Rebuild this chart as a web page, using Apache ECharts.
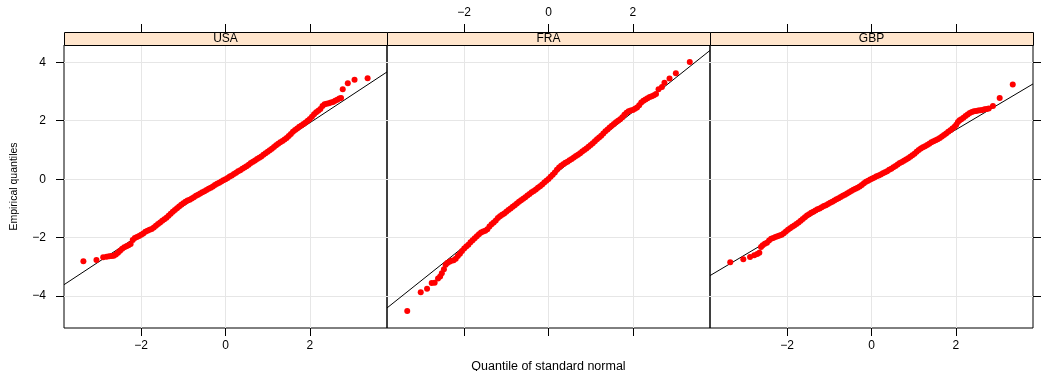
<!DOCTYPE html>
<html><head><meta charset="utf-8">
<script src="https://cdn.jsdelivr.net/npm/echarts@6/dist/echarts.min.js"></script>
<style>html,body{margin:0;padding:0;background:#fff}#c{width:1046px;height:371px}</style>
</head><body><div id="c"></div>
<script>
const panels = ['USA', 'FRA', 'GBP'];
const xTicks = [-2, 0, 2];
const yTicks = [-4, -2, 0, 2, 4];
const xRange = [-3.83, 3.83];
const yRange = [-5.09, 4.59];
const lineIntercept = [0.03, 0.00, -0.02];
const lineSlope = [0.95, 1.15, 0.856];

const usaPts = [[-3.37,-2.81],[-3.06,-2.76],[-2.90,-2.67],[-2.82,-2.65],[-2.76,-2.64],[-2.70,-2.63],[-2.65,-2.62],[-2.60,-2.58],[-2.55,-2.52],[-2.50,-2.45],[-2.45,-2.38],[-2.40,-2.33],[-2.35,-2.29],[-2.30,-2.26],[-2.25,-2.22],[-2.20,-2.08],[-2.15,-2.01],[-2.10,-1.98],[-2.05,-1.94],[-2.00,-1.90],[-1.95,-1.86],[-1.90,-1.80],[-1.85,-1.76],[-1.80,-1.73],[-1.75,-1.70],[-1.70,-1.65],[-1.65,-1.59],[-1.60,-1.53],[-1.55,-1.48],[-1.50,-1.42],[-1.45,-1.37],[-1.40,-1.32],[-1.35,-1.25],[-1.30,-1.18],[-1.25,-1.11],[-1.20,-1.05],[-1.15,-0.99],[-1.10,-0.93],[-1.05,-0.87],[-1.00,-0.82],[-0.95,-0.77],[-0.90,-0.73],[-0.85,-0.70],[-0.80,-0.66],[-0.75,-0.62],[-0.70,-0.57],[-0.65,-0.53],[-0.60,-0.49],[-0.55,-0.45],[-0.50,-0.41],[-0.45,-0.37],[-0.40,-0.33],[-0.35,-0.29],[-0.30,-0.25],[-0.25,-0.20],[-0.20,-0.16],[-0.15,-0.12],[-0.10,-0.08],[-0.05,-0.04],[0.00,0.00],[0.05,0.04],[0.10,0.09],[0.15,0.13],[0.20,0.18],[0.25,0.22],[0.30,0.27],[0.35,0.31],[0.40,0.36],[0.45,0.40],[0.50,0.44],[0.55,0.49],[0.60,0.55],[0.65,0.60],[0.70,0.64],[0.75,0.69],[0.80,0.73],[0.85,0.78],[0.90,0.84],[0.95,0.89],[1.00,0.94],[1.05,0.99],[1.10,1.04],[1.15,1.10],[1.20,1.16],[1.25,1.21],[1.30,1.26],[1.35,1.31],[1.40,1.36],[1.45,1.41],[1.50,1.48],[1.55,1.55],[1.60,1.62],[1.65,1.68],[1.70,1.73],[1.75,1.79],[1.80,1.84],[1.85,1.89],[1.90,1.94],[1.95,2.00],[2.00,2.06],[2.05,2.14],[2.10,2.22],[2.15,2.29],[2.20,2.34],[2.25,2.40],[2.30,2.50],[2.35,2.56],[2.40,2.58],[2.45,2.60],[2.50,2.62],[2.55,2.64],[2.60,2.68],[2.65,2.72],[2.70,2.76],[2.74,2.78],[2.78,3.08],[2.90,3.28],[3.06,3.40],[3.37,3.45]];

const fraPts = [[-3.35,-4.51],[-3.03,-3.87],[-2.88,-3.75],[-2.77,-3.55],[-2.70,-3.54],[-2.62,-3.40],[-2.57,-3.33],[-2.53,-3.22],[-2.48,-3.08],[-2.44,-2.93],[-2.40,-2.87],[-2.35,-2.82],[-2.30,-2.79],[-2.25,-2.77],[-2.20,-2.72],[-2.15,-2.63],[-2.10,-2.55],[-2.05,-2.46],[-2.00,-2.37],[-1.95,-2.30],[-1.90,-2.24],[-1.85,-2.16],[-1.80,-2.09],[-1.75,-2.02],[-1.70,-1.95],[-1.65,-1.88],[-1.60,-1.82],[-1.55,-1.79],[-1.50,-1.76],[-1.45,-1.71],[-1.40,-1.62],[-1.35,-1.54],[-1.30,-1.48],[-1.25,-1.41],[-1.20,-1.33],[-1.15,-1.27],[-1.10,-1.22],[-1.05,-1.17],[-1.00,-1.11],[-0.95,-1.05],[-0.90,-1.00],[-0.85,-0.94],[-0.80,-0.89],[-0.75,-0.83],[-0.70,-0.77],[-0.65,-0.72],[-0.60,-0.67],[-0.55,-0.62],[-0.50,-0.56],[-0.45,-0.51],[-0.40,-0.45],[-0.35,-0.40],[-0.30,-0.35],[-0.25,-0.29],[-0.20,-0.24],[-0.15,-0.18],[-0.10,-0.11],[-0.05,-0.05],[0.00,0.01],[0.05,0.08],[0.10,0.15],[0.15,0.23],[0.20,0.32],[0.25,0.40],[0.30,0.46],[0.35,0.51],[0.40,0.56],[0.45,0.60],[0.50,0.65],[0.55,0.69],[0.60,0.74],[0.65,0.79],[0.70,0.84],[0.75,0.89],[0.80,0.95],[0.85,1.00],[0.90,1.05],[0.95,1.11],[1.00,1.17],[1.05,1.23],[1.10,1.30],[1.15,1.37],[1.20,1.43],[1.25,1.49],[1.30,1.56],[1.35,1.64],[1.40,1.70],[1.45,1.77],[1.50,1.83],[1.55,1.89],[1.60,1.95],[1.65,2.00],[1.70,2.05],[1.75,2.12],[1.80,2.20],[1.85,2.27],[1.90,2.32],[1.95,2.35],[2.00,2.37],[2.05,2.41],[2.10,2.45],[2.15,2.53],[2.20,2.62],[2.25,2.68],[2.30,2.73],[2.35,2.77],[2.40,2.81],[2.45,2.84],[2.50,2.87],[2.55,2.91],[2.61,3.08],[2.69,3.15],[2.75,3.30],[2.87,3.44],[3.02,3.62],[3.35,4.01]];

const gbpPts = [[-3.35,-2.84],[-3.04,-2.74],[-2.88,-2.66],[-2.78,-2.60],[-2.71,-2.56],[-2.66,-2.52],[-2.62,-2.32],[-2.58,-2.26],[-2.53,-2.21],[-2.48,-2.17],[-2.43,-2.10],[-2.38,-2.04],[-2.33,-2.01],[-2.28,-1.98],[-2.23,-1.95],[-2.18,-1.93],[-2.13,-1.90],[-2.08,-1.85],[-2.03,-1.79],[-1.98,-1.73],[-1.93,-1.68],[-1.88,-1.63],[-1.83,-1.58],[-1.78,-1.53],[-1.73,-1.48],[-1.68,-1.42],[-1.63,-1.36],[-1.58,-1.30],[-1.53,-1.24],[-1.48,-1.20],[-1.43,-1.15],[-1.38,-1.11],[-1.33,-1.07],[-1.28,-1.03],[-1.23,-1.00],[-1.18,-0.96],[-1.13,-0.92],[-1.08,-0.89],[-1.03,-0.85],[-0.98,-0.81],[-0.93,-0.77],[-0.88,-0.73],[-0.83,-0.69],[-0.78,-0.65],[-0.73,-0.61],[-0.68,-0.57],[-0.63,-0.53],[-0.58,-0.49],[-0.53,-0.45],[-0.48,-0.40],[-0.43,-0.36],[-0.38,-0.33],[-0.33,-0.29],[-0.28,-0.25],[-0.23,-0.20],[-0.18,-0.14],[-0.13,-0.09],[-0.08,-0.05],[-0.03,-0.01],[0.02,0.02],[0.07,0.06],[0.12,0.10],[0.17,0.13],[0.22,0.16],[0.27,0.20],[0.32,0.24],[0.37,0.27],[0.42,0.32],[0.47,0.36],[0.52,0.41],[0.57,0.45],[0.62,0.50],[0.67,0.55],[0.72,0.59],[0.77,0.63],[0.82,0.67],[0.87,0.72],[0.92,0.77],[0.97,0.82],[1.02,0.87],[1.07,0.94],[1.12,1.00],[1.17,1.05],[1.22,1.09],[1.27,1.13],[1.32,1.17],[1.37,1.21],[1.42,1.26],[1.47,1.30],[1.52,1.33],[1.57,1.37],[1.62,1.41],[1.67,1.46],[1.72,1.51],[1.77,1.56],[1.82,1.62],[1.87,1.67],[1.92,1.73],[1.97,1.79],[2.01,1.86],[2.05,1.96],[2.09,2.02],[2.13,2.05],[2.18,2.10],[2.23,2.16],[2.28,2.21],[2.33,2.26],[2.38,2.30],[2.43,2.32],[2.48,2.33],[2.53,2.35],[2.58,2.36],[2.63,2.37],[2.68,2.39],[2.73,2.40],[2.78,2.42],[2.88,2.50],[3.04,2.78],[3.35,3.24]];

const allPts = [usaPts, fraPts, gbpPts];

const FONT = 'Liberation Sans, Arial, Helvetica, sans-serif';
const lefts = [64, 387, 710];
const W = 323, TOP = 45, H = 283, STRIP = 13;
const fmt = v => (v < 0 ? '\u2212' + (-v) : String(v));

const grid = [], xAxis = [], yAxis = [], series = [], graphic = [];
panels.forEach((p, i) => {
  grid.push({left: lefts[i], top: TOP, width: W, height: H, show: true, borderColor: '#000', borderWidth: 1,
    backgroundColor: 'transparent', containLabel: false, outerBoundsMode: 'none'});
  xAxis.push({
    type: 'value', gridIndex: i, min: xRange[0], max: xRange[1], position: 'bottom',
    axisLine: {show: false, onZero: false},
    axisTick: {show: true, inside: false, length: 8, customValues: xTicks, lineStyle: {color: '#000', width: 1}},
    axisLabel: {show: i !== 1, customValues: xTicks, formatter: fmt, margin: 12, color: '#000', fontSize: 12, fontFamily: FONT},
    splitLine: {show: true, lineStyle: {color: '#e6e6e6', width: 1}},
    name: i === 1 ? 'Quantile of standard normal' : '', nameLocation: 'middle', nameGap: 32,
    nameTextStyle: {color: '#000', fontSize: 12.5, fontFamily: FONT}
  });
  xAxis.push({
    type: 'value', gridIndex: i, min: xRange[0], max: xRange[1], position: 'top', offset: STRIP,
    axisLine: {show: false, onZero: false},
    axisTick: {show: true, inside: false, length: 8, customValues: xTicks, lineStyle: {color: '#000', width: 1}},
    axisLabel: {show: i === 1, customValues: xTicks, formatter: fmt, margin: 13, color: '#000', fontSize: 12, fontFamily: FONT},
    splitLine: {show: false}
  });
  yAxis.push({
    type: 'value', gridIndex: i, min: yRange[0], max: yRange[1], position: i === 2 ? 'right' : 'left',
    axisLine: {show: false, onZero: false},
    axisTick: {show: i !== 1, inside: false, length: 8, customValues: yTicks, lineStyle: {color: '#000', width: 1}},
    axisLabel: {show: i === 0, customValues: yTicks, formatter: fmt, margin: 18, color: '#000', fontSize: 12, fontFamily: FONT},
    splitLine: {show: true, lineStyle: {color: '#e6e6e6', width: 1}},
    name: i === 0 ? 'Empirical quantiles' : '', nameLocation: 'middle', nameGap: 44, nameRotate: 90,
    nameTextStyle: {color: '#000', fontSize: 10.5, fontFamily: FONT}
  });
  const a = lineIntercept[i], b = lineSlope[i];
  series.push({
    type: 'line', xAxisIndex: 2 * i, yAxisIndex: i, data: [[xRange[0], a + b * xRange[0]], [xRange[1], a + b * xRange[1]]],
    showSymbol: false, symbol: 'none', lineStyle: {color: '#000', width: 1}, silent: true, clip: true, z: 2, animation: false
  });
  series.push({
    type: 'scatter', xAxisIndex: 2 * i, yAxisIndex: i, data: allPts[i], symbol: 'circle', symbolSize: 6,
    itemStyle: {color: '#ff0000', opacity: 1}, silent: true, z: 3, animation: false
  });
  graphic.push({
    type: 'rect', shape: {x: lefts[i] + 0.5, y: TOP - STRIP + 0.5, width: W, height: STRIP},
    style: {fill: '#ffe5cc', stroke: '#000', lineWidth: 1}, z: 10
  });
  graphic.push({
    type: 'text', x: lefts[i] + W / 2, y: TOP - STRIP / 2 + 0.5,
    style: {text: p, fill: '#000', font: '12px ' + FONT, textAlign: 'center', textVerticalAlign: 'middle'}, z: 11
  });
});

const chart = echarts.init(document.getElementById('c'), null, {renderer: 'canvas'});
chart.setOption({animation: false, backgroundColor: '#fff', grid, xAxis, yAxis, series, graphic});
</script>
</body></html>
